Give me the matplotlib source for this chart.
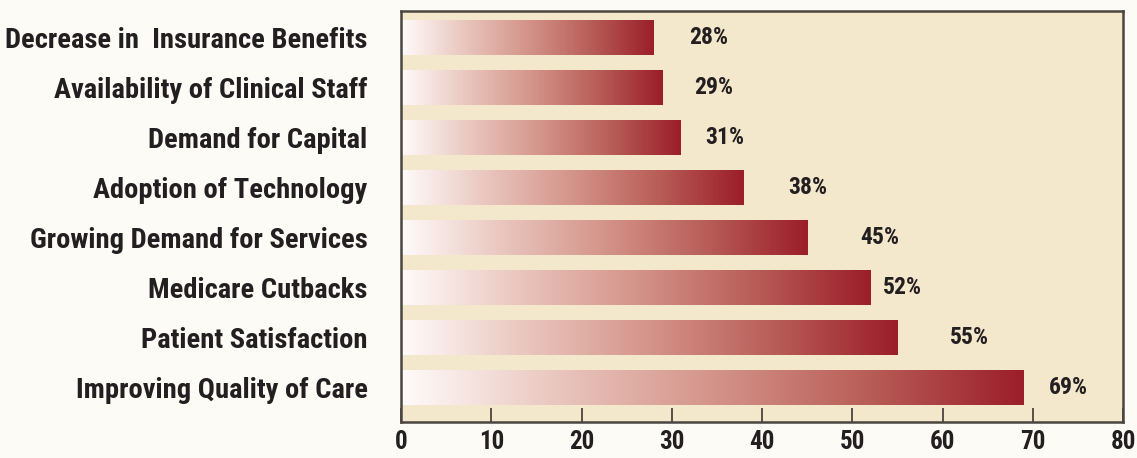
import numpy as np
import matplotlib
matplotlib.use("Agg")
import matplotlib.pyplot as plt
from matplotlib.colors import LinearSegmentedColormap

plt.rcParams['font.family'] = ['Roboto Condensed', 'DejaVu Sans']
plt.rcParams['font.weight'] = 'bold'

# data (top to bottom)
categories = ['Decrease in  Insurance Benefits', 'Availability of Clinical Staff',
              'Demand for Capital', 'Adoption of Technology',
              'Growing Demand for Services', 'Medicare Cutbacks',
              'Patient Satisfaction', 'Improving Quality of Care']
values = [28, 29, 31, 38, 45, 52, 55, 69]
value_labels = ['28%', '29%', '31%', '38%', '45%', '52%', '55%', '69%']
xticks = [0, 10, 20, 30, 40, 50, 60, 70, 80]

# left edge of the % labels, data units (the offsets are uneven in the original)
label_x = [31.9, 32.5, 33.7, 42.9, 50.9, 53.4, 60.8, 71.8]

txt = '#231f20'
grad = LinearSegmentedColormap.from_list(
    'bar', [(0, '#fffbfb'), (0.25, '#e9c6be'), (0.5, '#d4948a'),
            (0.75, '#b85e58'), (1.0, '#9b1e2a')])

fig = plt.figure(figsize=(11.37, 4.58), dpi=100, facecolor='#fcfbf6')
ax = fig.add_axes([0.3527, 0.0786, 0.9877 - 0.3527, 0.976 - 0.0786])
ax.set_facecolor('#f3e7cc')

y = np.arange(len(categories))
bars = ax.barh(y, values, height=0.7, color='none', edgecolor='none')
ramp = np.linspace(0, 1, 256).reshape(1, -1)
for b, v in zip(bars, values):
    # each bar fades from white to dark red over its own length
    y0 = b.get_y()
    im = ax.imshow(ramp, cmap=grad, aspect='auto', interpolation='bilinear',
                   extent=(0, v, y0 + b.get_height(), y0), zorder=2)
    im.set_clip_path(b)

for yi, lx, lab in zip(y, label_x, value_labels):
    ax.text(lx, yi, lab, ha='left', va='center', fontsize=17,
            fontweight='bold', color=txt)

ax.set_xlim(0, 80)
ax.set_ylim(len(categories) - 1 + 0.70, -0.54)
ax.set_xticks(xticks)
ax.set_yticks(y)
ax.set_yticklabels(categories)
ax.tick_params(axis='x', direction='in', length=10, width=1.3, color='#4a4540',
               labelsize=18, pad=6, labelcolor=txt)
ax.tick_params(axis='y', length=0, pad=24, labelsize=20.5, labelcolor=txt)
for lab in ax.get_xticklabels() + ax.get_yticklabels():
    lab.set_fontweight('bold')
for s in ax.spines.values():
    s.set_color('#4a4540')
    s.set_linewidth(1.8)

fig.savefig('out.png', dpi=100, facecolor=fig.get_facecolor())
